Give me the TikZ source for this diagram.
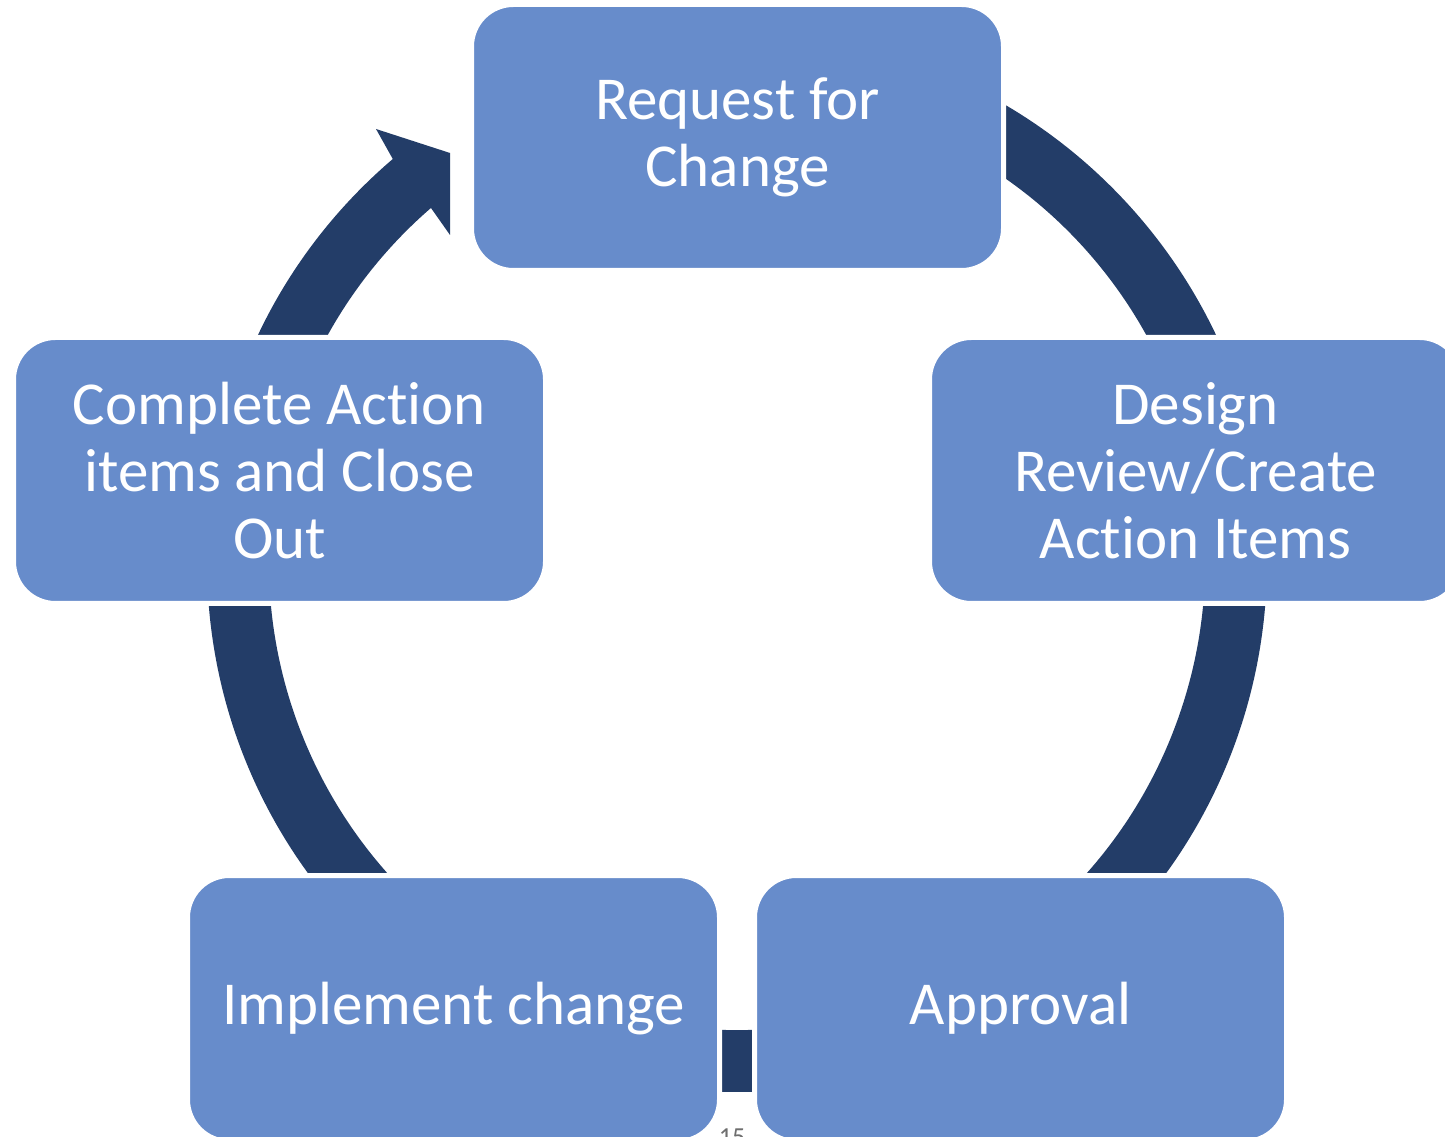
\documentclass[tikz,border=0pt]{standalone}
\usepackage{fontspec}
\setmainfont[Ligatures={NoCommon,NoRare,NoContextual}]{Carlito}
\usetikzlibrary{calc}
\definecolor{boxblue}{RGB}{103,140,203}
\definecolor{ringblue}{RGB}{35,61,104}
\definecolor{pagegray}{RGB}{110,110,110}
\begin{document}
\begin{tikzpicture}[x=1pt,y=1pt,
  stagebox/.style={rectangle, rounded corners=42pt, fill=boxblue, draw=white,
    line width=5pt, minimum width=532pt, minimum height=266pt, inner sep=0pt,
    text=white, align=center, font=\fontsize{61}{67}\selectfont},
  ringfill/.style={fill=ringblue}]
\useasboundingbox (0,0) rectangle (1445,1136);
\coordinate (C) at (737,574);
% circular arrow
\fill[ringfill] ($(C)+(130.5:530)$) arc[start angle=130.5, end angle=430, radius=530]
  -- ($(C)+(430:468)$) arc[start angle=430, end angle=130.5, radius=468]
  -- (431,928) -- (450,901) -- (450,983) -- (376,1007) -- cycle;
% stages
\node[stagebox] (req) at (737.5,998.5) {Request for\\Change};
\node[stagebox] (des) at (1195.5,665.5) {Design\\Review/Create\\Action Items};
\node[stagebox] (app) at (1020.5,127.5) {Approval};
\node[stagebox] (imp) at (453.5,127.5) {Implement change};
\node[stagebox] (clo) at (279.5,665.5) {Complete Action\\items and Close\\Out};
% page number (cut off)
\node[anchor=north, inner sep=0pt, text=pagegray, font=\fontsize{26}{30}\selectfont] (pg) at (732,7) {15};
\end{tikzpicture}
\end{document}
